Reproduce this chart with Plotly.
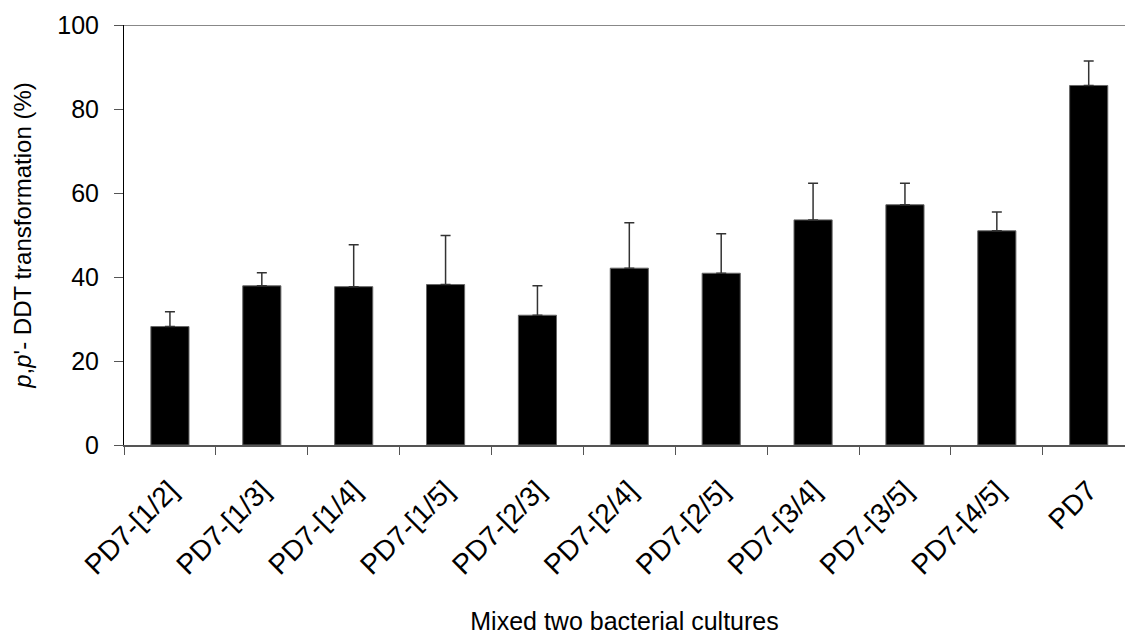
import plotly.graph_objects as go

categories = ["PD7-[1/2]", "PD7-[1/3]", "PD7-[1/4]", "PD7-[1/5]", "PD7-[2/3]",
              "PD7-[2/4]", "PD7-[2/5]", "PD7-[3/4]", "PD7-[3/5]", "PD7-[4/5]", "PD7"]
means = [28.2, 37.9, 37.7, 38.2, 30.9, 42.1, 40.9, 53.6, 57.2, 51.0, 85.6]
errors = [3.5, 3.1, 10.0, 11.7, 7.0, 10.8, 9.4, 8.7, 5.1, 4.5, 5.8]
y_ticks = [0, 20, 40, 60, 80, 100]

FONT = "Liberation Sans, Arial, sans-serif"

fig = go.Figure()
fig.add_trace(go.Bar(
    x=categories, y=means,
    marker=dict(color="black", line=dict(color="#666666", width=1)),
    error_y=dict(type="data", array=errors, arrayminus=[0] * len(errors),
                 symmetric=False, color="#333333", thickness=1.5, width=5),
    showlegend=False,
))

fig.update_layout(
    width=1125, height=635,
    margin=dict(l=124, r=0, t=25, b=190),
    paper_bgcolor="white", plot_bgcolor="white",
    bargap=0.585,
    font=dict(family=FONT, color="black"),
    xaxis=dict(
        type="category",
        range=[-0.5, 10.395],
        showline=True, linecolor="#555555", linewidth=2,
        ticks="outside", tickson="boundaries", ticklen=8, tickcolor="#555555", tickwidth=1,
        tickangle=-45, tickfont=dict(size=28, family=FONT),
        ticklabelstandoff=16,
        showgrid=False,
        title=dict(text="Mixed two bacterial cultures", font=dict(size=25, family=FONT), standoff=34),
    ),
    yaxis=dict(
        range=[0, 100], tickvals=y_ticks,
        showline=True, linecolor="black", linewidth=1,
        ticks="outside", ticklen=9, tickcolor="#555555", tickwidth=1,
        tickfont=dict(size=25, family=FONT),
        ticklabelstandoff=10,
        showgrid=False, zeroline=False,
        title=dict(text="<i>p</i>,<i>p</i>'- DDT transformation (%)", font=dict(size=24, family=FONT), standoff=18),
    ),
    shapes=[dict(type="line", xref="paper", yref="y", x0=0, x1=1, y0=100, y1=100,
                 line=dict(color="#888888", width=2))],
)

fig.write_html("out.html")
